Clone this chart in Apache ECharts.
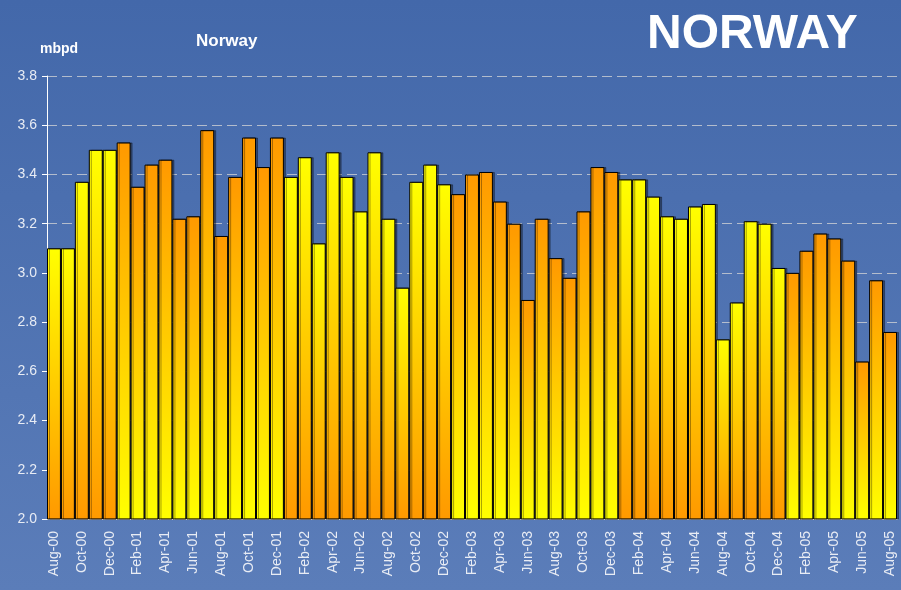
<!DOCTYPE html>
<html>
<head>
<meta charset="utf-8">
<script src="https://cdn.jsdelivr.net/npm/echarts@6/dist/echarts.min.js"></script>
<style>
  html, body { margin: 0; padding: 0; }
  #chart { width: 901px; height: 590px; }
</style>
</head>
<body>
<div id="chart"></div>
<script>
  // monthly output, Aug-00 .. Aug-05
  var months = [
    'Aug-00', 'Sep-00', 'Oct-00', 'Nov-00', 'Dec-00',
    'Jan-01', 'Feb-01', 'Mar-01', 'Apr-01', 'May-01', 'Jun-01', 'Jul-01', 'Aug-01', 'Sep-01', 'Oct-01', 'Nov-01', 'Dec-01',
    'Jan-02', 'Feb-02', 'Mar-02', 'Apr-02', 'May-02', 'Jun-02', 'Jul-02', 'Aug-02', 'Sep-02', 'Oct-02', 'Nov-02', 'Dec-02',
    'Jan-03', 'Feb-03', 'Mar-03', 'Apr-03', 'May-03', 'Jun-03', 'Jul-03', 'Aug-03', 'Sep-03', 'Oct-03', 'Nov-03', 'Dec-03',
    'Jan-04', 'Feb-04', 'Mar-04', 'Apr-04', 'May-04', 'Jun-04', 'Jul-04', 'Aug-04', 'Sep-04', 'Oct-04', 'Nov-04', 'Dec-04',
    'Jan-05', 'Feb-05', 'Mar-05', 'Apr-05', 'May-05', 'Jun-05', 'Jul-05', 'Aug-05'
  ]
  var output = [
    3.10, 3.10, 3.37, 3.50, 3.50,
    3.53, 3.35, 3.44, 3.46, 3.22, 3.23, 3.58, 3.15, 3.39, 3.55, 3.43, 3.55,
    3.39, 3.47, 3.12, 3.49, 3.39, 3.25, 3.49, 3.22, 2.94, 3.37, 3.44, 3.36,
    3.32, 3.40, 3.41, 3.29, 3.20, 2.89, 3.22, 3.06, 2.98, 3.25, 3.43, 3.41,
    3.38, 3.38, 3.31, 3.23, 3.22, 3.27, 3.28, 2.73, 2.88, 3.21, 3.20, 3.02,
    3.00, 3.09, 3.16, 3.14, 3.05, 2.64, 2.97, 2.76
  ]

  var yellow = '#ffff00'
  var orange = '#ff9900'

  // alternate the gradient direction year by year
  function barColor(label) {
    var yr = parseInt(label.split('-')[1], 10)
    var top = yr % 2 === 0 ? yellow : orange
    var bottom = yr % 2 === 0 ? orange : yellow
    return new echarts.graphic.LinearGradient(0, 0, 0, 1, [
      {offset: 0, color: top},
      {offset: 1, color: bottom}
    ])
  }

  var barData = output.map(function (v, i) {
    return {value: v, itemStyle: {color: barColor(months[i])}}
  })

  var chart = echarts.init(document.getElementById('chart'))
  chart.setOption({
    backgroundColor: new echarts.graphic.LinearGradient(0, 0, 0, 1, [
      {offset: 0, color: '#4368aa'},
      {offset: 1, color: '#5b7db9'}
    ]),
    animation: false,
    textStyle: {fontFamily: 'Liberation Sans, Arial, sans-serif'},
    title: [
      {
        text: 'NORWAY',
        left: 647, top: 11, padding: 0,
        textStyle: {color: '#ffffff', fontSize: 48, fontWeight: 'bold'}
      },
      {
        text: 'Norway',
        left: 196, top: 33, padding: 0,
        textStyle: {color: '#ffffff', fontSize: 17, fontWeight: 'bold'}
      },
      {
        text: 'mbpd',
        left: 40, top: 42, padding: 0,
        textStyle: {color: '#ffffff', fontSize: 14, fontWeight: 'bold'}
      }
    ],
    grid: {left: 47, right: 4, top: 76, bottom: 71, containLabel: false},
    xAxis: {
      type: 'category',
      data: months,
      axisLine: {lineStyle: {color: '#ffffff', width: 1}},
      axisTick: {interval: 1, length: 5, lineStyle: {color: '#ffffff'}},
      axisLabel: {
        interval: 1,
        rotate: 90,
        margin: 12,
        color: '#e8ecf4',
        fontSize: 14
      }
    },
    yAxis: {
      type: 'value',
      min: 2.0,
      max: 3.8,
      interval: 0.2,
      axisLine: {show: true, lineStyle: {color: '#ffffff', width: 1}},
      axisTick: {show: true, length: 5, lineStyle: {color: '#ffffff'}},
      axisLabel: {
        margin: 10,
        color: '#e8ecf4',
        fontSize: 14,
        formatter: function (v) { return v.toFixed(1) }
      },
      splitLine: {lineStyle: {color: 'rgba(215,215,215,0.75)', type: [10, 5], width: 1}}
    },
    series: [
      {
        type: 'bar',
        data: barData,
        barCategoryGap: 0,
        itemStyle: {
          borderColor: '#000000',
          borderWidth: 1,
          shadowColor: 'rgba(0,0,0,0.35)',
          shadowOffsetX: 2,
          shadowOffsetY: 0,
          shadowBlur: 0
        }
      }
    ]
  })
</script>
</body>
</html>
